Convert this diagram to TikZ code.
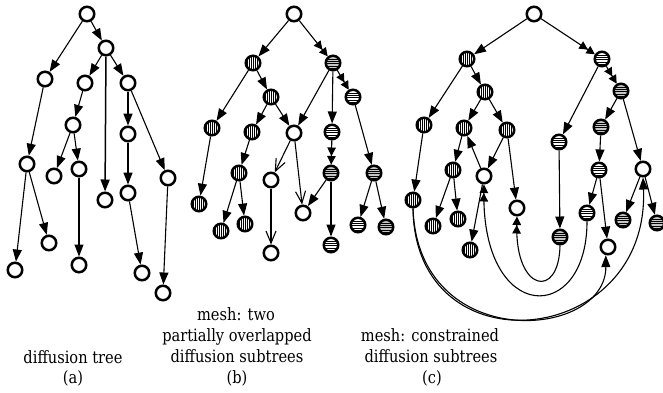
\documentclass[tikz,border=0pt]{standalone}
\usepackage{fontspec}
\setmainfont{DejaVu Serif}[FakeStretch=0.86]
\usetikzlibrary{arrows.meta}
\begin{document}
\begin{tikzpicture}[x=1pt,y=-1pt,
  nd/.style={circle,draw,line width=2.5pt,minimum size=14.5pt,inner sep=0pt,fill=white},
  vs/.style={nd,path picture={\foreach \i in {-8,-6,...,8}{\draw[line width=0.9pt] ([xshift=\i pt]path picture bounding box.north) -- ([xshift=\i pt]path picture bounding box.south);}}},
  hs/.style={nd,path picture={\foreach \i in {-8,-5.6,...,8}{\draw[line width=1pt] ([yshift=\i pt]path picture bounding box.west) -- ([yshift=\i pt]path picture bounding box.east);}}},
  hg/.style={hs,fill=gray!45},
  e/.style={line width=1.1pt,-{Triangle[length=12pt,width=9pt]}},
  ee/.style={line width=1.1pt,-{Triangle[length=8.5pt,width=8.5pt]Triangle[length=8.5pt,width=8.5pt]}},
  eo/.style={line width=1.1pt,-{Straight Barb[length=12pt,width=10pt,line width=1.1pt]}},
  captxt/.style={anchor=base,font=\fontsize{17}{21}\selectfont,inner sep=0pt}
]
\useasboundingbox (0,0) rectangle (663,392);
% ---------- (a)
\node[nd] (a1) at (87,14) {};
\node[nd] (a2) at (106,48) {};
\node[nd] (a3) at (45,79) {};
\node[nd] (a4) at (85,83) {};
\node[nd] (a5) at (128,83) {};
\node[nd] (a6) at (73,125) {};
\node[nd] (a7) at (128,134) {};
\node[nd] (a8) at (27,164) {};
\node[nd] (a9) at (54,176) {};
\node[nd] (a10) at (79,169) {};
\node[nd] (a11) at (105,200) {};
\node[nd] (a12) at (128,193) {};
\node[nd] (a13) at (168,178) {};
\node[nd] (a14) at (49,243) {};
\node[nd] (a15) at (15,270) {};
\node[nd] (a16) at (79,265) {};
\node[nd] (a17) at (142,273) {};
\node[nd] (a18) at (163,293) {};
\draw[e] (a1) -- (a3);
\draw[e] (a1) -- (a2);
\draw[e] (a2) -- (a4);
\draw[e,line width=1.5pt] (a2) -- (a11);
\draw[e] (a2) -- (a5);
\draw[e] (a4) -- (a6);
\draw[e] (a3) -- (a8);
\draw[e] (a6) -- (a9);
\draw[e] (a6) -- (a10);
\draw[e,line width=1.6pt] (a5) -- (a7);
\draw[e,line width=1.6pt] (a7) -- (a12);
\draw[e] (a5) -- (a13);
\draw[e] (a8) -- (a15);
\draw[e] (a8) -- (a14);
\draw[e] (a10) -- (a16);
\draw[e] (a12) -- (a17);
\draw[e] (a13) -- (a18);
% ---------- (b)
\node[nd] (b1) at (294,14) {};
\node[vs] (b2) at (253,63) {};
\node[hg] (b3) at (333,63) {};
\node[vs] (b4) at (271,97) {};
\node[hs] (b5) at (353,97) {};
\node[vs] (b6) at (212,128) {};
\node[vs] (b7) at (252,132) {};
\node[nd] (b8) at (294,133) {};
\node[hs] (b9) at (332,132) {};
\node[vs] (b10) at (239,173) {};
\node[nd] (b11) at (271,180) {};
\node[hg] (b12) at (331,173) {};
\node[hg] (b13) at (374,173) {};
\node[vs] (b14) at (199,204) {};
\node[nd] (b15) at (303,213) {};
\node[vs] (b16) at (221,231) {};
\node[vs] (b17) at (245,224) {};
\node[hs] (b18) at (358,225) {};
\node[hg] (b19) at (386,227) {};
\node[nd] (b20) at (271,253) {};
\node[hs] (b21) at (331,245) {};
\draw[e] (b1) -- (b2);
\draw[ee] (b1) -- (b3);
\draw[e] (b2) -- (b6);
\draw[e] (b2) -- (b4);
\draw[e] (b4) -- (b7);
\draw[e] (b4) -- (b8);
\draw[e] (b3) -- (b8);
\draw[e] (b3) -- (b9);
\draw[ee] (b3) -- (b5);
\draw[e] (b5) -- (b13);
\draw[e] (b6) -- (b14);
\draw[e] (b7) -- (b10);
\draw[e] (b10) -- (b16);
\draw[e] (b10) -- (b17);
\draw[eo] (b8) -- (b11);
\draw[eo] (b8) -- (b15);
\draw[eo] (b11) -- (b20);
\draw[ee] (b9) -- (b12);
\draw[e] (b12) -- (b15);
\draw[e] (b12) -- (b21);
\draw[e] (b13) -- (b18);
\draw[e] (b13) -- (b19);
% ---------- (c)
\node[nd] (c1) at (534,14) {};
\node[vs] (c2) at (467,59) {};
\node[hs] (c3) at (602,59) {};
\node[vs] (c4) at (485,92) {};
\node[hg] (c5) at (621,91) {};
\node[vs] (c6) at (424,125) {};
\node[vs] (c7) at (464,128) {};
\node[vs] (c8) at (507,130) {};
\node[hg] (c9) at (601,127) {};
\node[hs] (c10) at (559,142) {};
\node[vs] (c11) at (453,170) {};
\node[nd] (c12) at (484,176) {};
\node[hs] (c13) at (599,170) {};
\node[nd] (c14) at (643,169) {};
\node[vs] (c15) at (413,200) {};
\node[nd] (c16) at (517,208) {};
\node[hs] (c17) at (587,213) {};
\node[vs] (c18) at (458,219) {};
\node[hg] (c19) at (623,220) {};
\node[hg] (c20) at (657,223) {};
\node[vs] (c21) at (433,226) {};
\node[hg] (c22) at (560,237) {};
\node[nd] (c23) at (608,247) {};
\node[vs] (c24) at (470,250) {};
\draw[e] (c1) -- (c2);
\draw[ee] (c1) -- (c3);
\draw[e] (c2) -- (c6);
\draw[e] (c2) -- (c4);
\draw[e] (c4) -- (c7);
\draw[e] (c4) -- (c8);
\draw[e] (c3) -- (c10);
\draw[ee] (c3) -- (c5);
\draw[e] (c5) -- (c9);
\draw[e] (c5) -- (c14);
\draw[e] (c6) -- (c15);
\draw[e] (c7) -- (c11);
\draw[e] (c12) -- (c7);
\draw[e] (c8) -- (c12);
\draw[e] (c8) -- (c16);
\draw[e] (c11) -- (c21);
\draw[e] (c11) -- (c18);
\draw[e] (c12) -- (c24);
\draw[e] (c9) -- (c13);
\draw[e] (c13) -- (c17);
\draw[e] (c13) -- (c23);
\draw[e] (c14) -- (c19);
\draw[e] (c14) -- (c20);
\draw[e] (c10) -- (c22);
\draw[ee] (c22.south) .. controls (559,300) and (515,292) .. (c16.south);
\draw[ee] (c17.south) .. controls (587,325) and (482,325) .. (c12.south);
\draw[e] (c15.south) .. controls (418,354) and (606,340) .. (c23.255);
\draw[e] (c15.south) .. controls (415,372) and (650,348) .. (c14.south);
% ---------- captions
\node[captxt] (ta1) at (73,363) {diffusion tree};
\node[captxt] (ta2) at (73,383) {(a)};
\node[captxt] (tb1) at (236,320) {mesh: two};
\node[captxt] (tb2) at (237,341) {partially overlapped};
\node[captxt] (tb3) at (237,362) {diffusion subtrees};
\node[captxt] (tb4) at (237,383) {(b)};
\node[captxt] (tc1) at (430,341) {mesh: constrained};
\node[captxt] (tc2) at (431,362) {diffusion subtrees};
\node[captxt] (tc3) at (432,383) {(c)};
\end{tikzpicture}
\end{document}
